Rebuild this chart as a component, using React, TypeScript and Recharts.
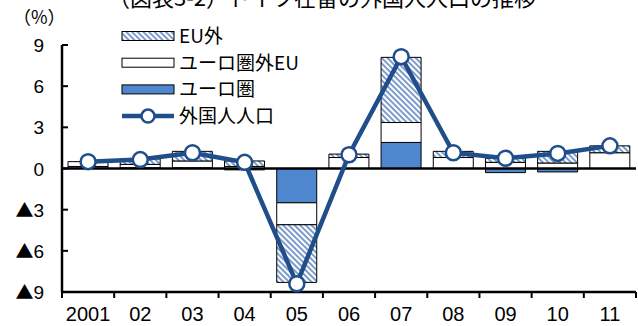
import {
  Bar,
  ComposedChart,
  Line,
  ReferenceLine,
  XAxis,
  YAxis,
} from "recharts";

const years = ["2001", "02", "03", "04", "05", "06", "07", "08", "09", "10", "11"];
const euroArea = [0.15, 0.05, 0.05, -0.1, -2.5, 0.0, 1.9, 0.0, -0.3, -0.25, 0.0];
const otherEu = [0.35, 0.25, 0.5, 0.15, -1.6, 0.8, 1.45, 0.8, 0.45, 0.4, 1.15];
const nonEu = [0.0, 0.4, 0.7, 0.4, -4.2, 0.25, 4.75, 0.45, 0.3, 0.85, 0.5];
const foreignPop = [0.5, 0.65, 1.15, 0.45, -8.4, 1.0, 8.15, 1.15, 0.75, 1.1, 1.65];
const yTicks = [-9, -6, -3, 0, 3, 6, 9];

const NAVY = "#1f4e8a";
const BLUE = "#4f87cf";
const HATCH = "#7d9ccb";
const NUM_FONT = "'Liberation Sans', Arial, sans-serif";
const JP_FONT = "'Noto Sans CJK JP', sans-serif";

const data = years.map((year, i) => ({
  year,
  euro: euroArea[i],
  other: otherEu[i],
  nonEu: nonEu[i],
  total: foreignPop[i],
}));

function XTick(props: any) {
  const { x, payload, index } = props;
  const axisY = 292;
  const half = payload.offset ?? 26.1;
  return (
    <g>
      <line x1={x - half} x2={x - half} y1={axisY} y2={axisY + 6} stroke="#000" strokeWidth={2} />
      {index === years.length - 1 && (
        <line x1={x + half} x2={x + half} y1={axisY} y2={axisY + 6} stroke="#000" strokeWidth={2} />
      )}
      <text x={x} y={axisY + 29} textAnchor="middle" fontSize={20} fontFamily={NUM_FONT} fill="#000">
        {payload.value}
      </text>
    </g>
  );
}

function YTick(props: any) {
  const { y, payload } = props;
  const v = payload.value as number;
  return (
    <g>
      <line x1={62} x2={68} y1={y} y2={y} stroke="#000" strokeWidth={2} />
      <text x={44} y={y + 7} textAnchor="end" fontSize={19} fontFamily={NUM_FONT} fill="#000">
        {v < 0 && (
          <tspan fontFamily={JP_FONT} fontSize={18}>
            ▲
          </tspan>
        )}
        <tspan>{Math.abs(v)}</tspan>
      </text>
    </g>
  );
}

function Dot(props: any) {
  const { cx, cy } = props;
  if (cx == null || cy == null) return null;
  return <circle cx={cx} cy={cy} r={7.5} fill="#fff" stroke={NAVY} strokeWidth={2.5} />;
}

function Legend() {
  const rows = [
    { label: "EU外", kind: "hatch" },
    { label: "ユーロ圏外EU", kind: "white" },
    { label: "ユーロ圏", kind: "blue" },
    { label: "外国人人口", kind: "line" },
  ];
  return (
    <svg width={260} height={120} style={{ position: "absolute", left: 115, top: 22 }}>
      <defs>
        <pattern id="hatchLegend" patternUnits="userSpaceOnUse" width={4} height={4} patternTransform="rotate(-45)">
          <rect width={4} height={4} fill="#fff" />
          <rect width={2} height={4} fill={HATCH} />
        </pattern>
      </defs>
      {rows.map((r, i) => {
        const cy = 14 + i * 26.7;
        return (
          <g key={r.label}>
            {r.kind === "line" ? (
              <g>
                <line x1={7} x2={59} y1={cy} y2={cy} stroke={NAVY} strokeWidth={4.5} />
                <circle cx={33} cy={cy} r={6.5} fill="#fff" stroke={NAVY} strokeWidth={2.5} />
              </g>
            ) : (
              <rect
                x={7}
                y={cy - 4.5}
                width={52}
                height={9}
                fill={r.kind === "hatch" ? "url(#hatchLegend)" : r.kind === "blue" ? BLUE : "#fff"}
                stroke="#000"
                strokeWidth={1}
              />
            )}
            <text x={64} y={cy + 7} fontSize={19} fontFamily={JP_FONT} fill="#000">
              {r.label}
            </text>
          </g>
        );
      })}
    </svg>
  );
}

export default function App() {
  return (
    <div style={{ position: "fixed", left: 0, top: 0, width: 638, height: 326, background: "#fff", overflow: "hidden" }}>
      <div
        style={{
          position: "absolute",
          left: 108,
          top: -20,
          fontSize: 22,
          fontFamily: JP_FONT,
          whiteSpace: "nowrap",
          color: "#000",
        }}
      >
        （図表3-2）ドイツ在留の外国人人口の推移
      </div>
      <div
        style={{
          position: "absolute",
          left: 13,
          top: 3,
          fontSize: 18,
          fontFamily: JP_FONT,
          color: "#000",
        }}
      >
        （%）
      </div>
      <ComposedChart
        width={638}
        height={326}
        data={data}
        stackOffset="sign"
        barCategoryGap="11.5%"
        margin={{ top: 45, right: 2, left: 0, bottom: 0 }}
      >
        <defs>
          <pattern id="hatch" patternUnits="userSpaceOnUse" width={4} height={4} patternTransform="rotate(-45)">
            <rect width={4} height={4} fill="#fff" />
            <rect width={2} height={4} fill={HATCH} />
          </pattern>
        </defs>
        <XAxis
          dataKey="year"
          height={34}
          axisLine={{ stroke: "#000", strokeWidth: 2.5 }}
          tickLine={false}
          tick={<XTick />}
          interval={0}
        />
        <YAxis
          width={62}
          domain={[-9, 9]}
          ticks={yTicks}
          axisLine={{ stroke: "#000", strokeWidth: 2.5 }}
          tickLine={false}
          tick={<YTick />}
          interval={0}
        />
        <Bar dataKey="euro" stackId="s" fill={BLUE} stroke="#000" strokeWidth={1} isAnimationActive={false} />
        <Bar dataKey="other" stackId="s" fill="#fff" stroke="#000" strokeWidth={1} isAnimationActive={false} />
        <Bar dataKey="nonEu" stackId="s" fill="url(#hatch)" stroke="#000" strokeWidth={1} isAnimationActive={false} />
        <ReferenceLine y={0} stroke="#000" strokeWidth={2.5} />
        <Line
          dataKey="total"
          type="linear"
          stroke={NAVY}
          strokeWidth={4.5}
          dot={<Dot />}
          activeDot={false}
          isAnimationActive={false}
        />
      </ComposedChart>
      <Legend />
    </div>
  );
}
